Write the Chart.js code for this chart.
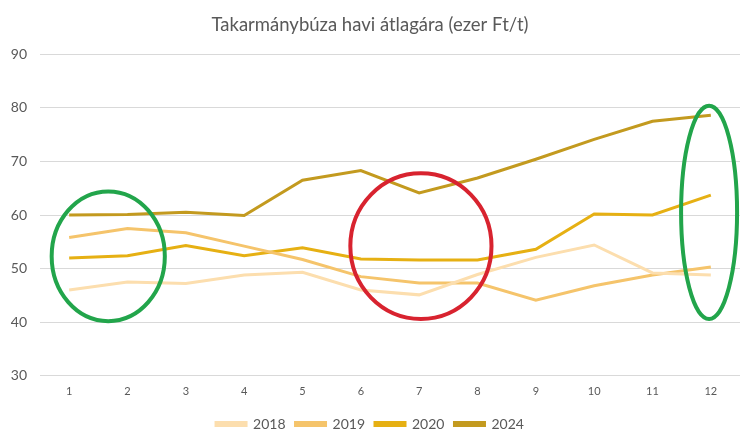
<!DOCTYPE html>
<html>
<head>
<meta charset="utf-8">
<script src="https://cdn.jsdelivr.net/npm/chart.js@4"></script>
<style>
  html, body { margin: 0; padding: 0; background: #fff; }
  #wrap { width: 750px; height: 445px; }
</style>
</head>
<body>
<div id="wrap"><canvas id="chart" width="750" height="445"></canvas></div>
<script>
// Takarmánybúza havi átlagára
const months = ['1', '2', '3', '4', '5', '6', '7', '8', '9', '10', '11', '12'];
const years = ['2018', '2019', '2020', '2024'];
const price2018 = [46.0, 47.5, 47.2, 48.8, 49.3, 46.0, 45.1, 48.9, 52.1, 54.4, 49.2, 48.8];
const price2019 = [55.8, 57.5, 56.7, 54.2, 51.7, 48.5, 47.3, 47.3, 44.1, 46.8, 48.8, 50.3];
const price2020 = [52.0, 52.4, 54.3, 52.4, 53.9, 51.8, 51.6, 51.6, 53.6, 60.2, 60.0, 63.7];
const price2024 = [60.0, 60.1, 60.5, 59.9, 66.5, 68.3, 64.1, 66.9, 70.4, 74.1, 77.5, 78.6];
const yTicks = [30, 40, 50, 60, 70, 80, 90];

const colors = ['#fcdeae', '#f5c46b', '#e6b013', '#c39a1f'];
const series = [price2018, price2019, price2020, price2024];

// hand-drawn highlight ellipses: centre (category index, value), radii (categories, value units)
const marks = [
    { cx: 0.67, cy: 52.3, rx: 0.97, ry: 12.1, color: '#22a54b' },
    { cx: 6.03, cy: 54.2, rx: 1.21, ry: 13.6, color: '#d8232f' },
    { cx: 10.97, cy: 60.5, rx: 0.48, ry: 19.9, color: '#22a54b' }
];

const ellipsePlugin = {
    id: 'ellipses',
    afterDatasetsDraw(chart) {
        const { ctx, scales: { x, y } } = chart;
        const step = x.getPixelForValue(1) - x.getPixelForValue(0);
        ctx.save();
        marks.forEach(m => {
            const px = x.getPixelForValue(0) + m.cx * step;
            const py = y.getPixelForValue(m.cy);
            const rx = m.rx * step;
            const ry = Math.abs(y.getPixelForValue(m.cy + m.ry) - py);
            ctx.beginPath();
            ctx.ellipse(px, py, rx, ry, 0, 0, Math.PI * 2);
            ctx.lineWidth = 4;
            ctx.strokeStyle = m.color;
            ctx.stroke();
        });
        ctx.restore();
    }
};

Chart.defaults.font.family = 'Lato, "Open Sans", sans-serif';
Chart.defaults.color = '#595959';

new Chart(document.getElementById('chart'), {
    type: 'line',
    data: {
        labels: months,
        datasets: series.map((data, i) => ({
            label: years[i],
            data: data,
            borderColor: colors[i],
            backgroundColor: colors[i],
            borderWidth: 3,
            pointRadius: 0,
            tension: 0
        }))
    },
    options: {
        responsive: false,
        animation: false,
        layout: { padding: { left: 0, right: 10, top: 14, bottom: 4 } },
        plugins: {
            title: {
                display: true,
                text: 'Takarmánybúza havi átlagára (ezer Ft/t)',
                color: '#595959',
                font: { size: 18.5, weight: 'normal' },
                padding: { top: 0, bottom: 18 }
            },
            legend: {
                position: 'bottom',
                labels: {
                    boxWidth: 30,
                    boxHeight: 3,
                    padding: 10,
                    color: '#595959',
                    font: { size: 14 }
                }
            },
            tooltip: { enabled: false }
        },
        scales: {
            x: {
                offset: true,
                grid: { display: false, drawTicks: false },
                border: { display: false },
                ticks: { color: '#595959', font: { size: 11 }, padding: 9 }
            },
            y: {
                min: 30,
                max: 90,
                afterFit: s => { s.width = 40; },
                afterBuildTicks: s => { s.ticks = yTicks.map(v => ({ value: v })); },
                grid: { color: '#d9d9d9', drawTicks: false },
                border: { display: false },
                ticks: { color: '#595959', font: { size: 14 }, padding: 13 }
            }
        }
    },
    plugins: [ellipsePlugin]
});
</script>
</body>
</html>
